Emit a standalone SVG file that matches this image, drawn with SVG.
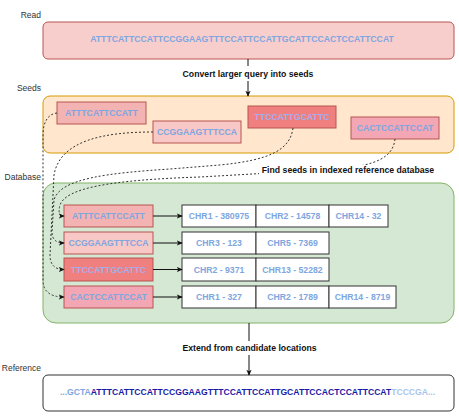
<svg xmlns="http://www.w3.org/2000/svg" width="459" height="418" viewBox="0 0 459 418">
<defs>
<marker id="arr" viewBox="0 0 8 8" refX="7" refY="4" markerWidth="6" markerHeight="6" orient="auto" markerUnits="userSpaceOnUse">
<path d="M0,0.5 L8,4 L0,7.5 L2,4 Z" fill="#111"/>
</marker>
<style>
text{font-family:"Liberation Sans",Arial,sans-serif}
.lbl{font-size:8.5px;fill:#333;text-anchor:end}
.seq{font-weight:bold;font-size:8.7px;fill:#7EA6E0;text-anchor:middle}
.cap{font-weight:bold;font-size:8.7px;fill:#111;text-anchor:middle}
.chr{fill:#fff;stroke:#333;stroke-width:1}
.sd{stroke:#B85450;stroke-width:1}
.dash{fill:none;stroke:#333;stroke-width:1;stroke-dasharray:2 2}
.ln{fill:none;stroke:#111;stroke-width:1}
</style>
</defs>
<rect width="459" height="418" fill="#fff"/>

<g id="labels">
<text class="lbl" x="41" y="18">Read</text>
<text class="lbl" x="41" y="91">Seeds</text>
<text class="lbl" x="41" y="180">Database</text>
<text class="lbl" x="41" y="371">Reference</text>
</g>

<g id="read">
<rect x="43" y="22" width="411" height="37" rx="5" fill="#F8CECC" stroke="#B85450"/>
<text class="seq" x="242" y="42">ATTTCATTCCATTCCGGAAGTTTCCATTCCATTGCATTCCACTCCATTCCAT</text>
</g>

<g id="seeds">
<rect x="43" y="96" width="411" height="57" rx="7" fill="#FFE6CC" stroke="#D79B00"/>
</g>
<g id="seed1"><rect class="sd" x="57" y="102" width="89" height="22" fill="#F4B3B3"/><text class="seq" x="101.5" y="116">ATTTCATTCCATT</text></g>
<g id="seed2"><rect class="sd" x="153" y="121" width="88" height="22" fill="#F7C8C6"/><text class="seq" x="197" y="135">CCGGAAGTTTCCA</text></g>
<g id="seed3"><rect class="sd" x="248" y="106" width="88" height="22" fill="#F08080"/><text class="seq" x="292" y="120" style="fill:#A4AEEA">TTCCATTGCATTC</text></g>
<g id="seed4"><rect class="sd" x="351" y="117" width="88" height="22" fill="#F3A6B4"/><text class="seq" x="395" y="131">CACTCCATTCCAT</text></g>

<g id="database">
<rect x="43" y="183" width="411" height="140" rx="13" fill="#D5E8D4" stroke="#82B366"/>
</g>
<g id="db1"><rect class="sd" x="64" y="205" width="89" height="22" fill="#F4B3B3"/><text class="seq" x="108.5" y="219">ATTTCATTCCATT</text></g>
<g id="db2"><rect class="sd" x="64" y="232" width="89" height="22" fill="#F7C8C6"/><text class="seq" x="108.5" y="246">CCGGAAGTTTCCA</text></g>
<g id="db3"><rect class="sd" x="64" y="258" width="89" height="23" fill="#F08080"/><text class="seq" x="108.5" y="272.5" style="fill:#A4AEEA">TTCCATTGCATTC</text></g>
<g id="db4"><rect class="sd" x="64" y="286" width="89" height="22" fill="#F3A6B4"/><text class="seq" x="108.5" y="300">CACTCCATTCCAT</text></g>

<g id="loc1">
<rect class="chr" x="182" y="205" width="74" height="22"/><text class="seq" x="219" y="219">CHR1 - 380975</text>
<rect class="chr" x="256" y="205" width="73" height="22"/><text class="seq" x="292.5" y="219">CHR2 - 14578</text>
<rect class="chr" x="329" y="205" width="59" height="22"/><text class="seq" x="358.5" y="219">CHR14 - 32</text>
</g>
<g id="loc2">
<rect class="chr" x="182" y="232" width="74" height="22"/><text class="seq" x="219" y="246">CHR3 - 123</text>
<rect class="chr" x="256" y="232" width="73" height="22"/><text class="seq" x="292.5" y="246">CHR5 - 7369</text>
</g>
<g id="loc3">
<rect class="chr" x="182" y="258" width="74" height="23"/><text class="seq" x="219" y="272.5">CHR2 - 9371</text>
<rect class="chr" x="256" y="258" width="73" height="23"/><text class="seq" x="292.5" y="272.5">CHR13 - 52282</text>
</g>
<g id="loc4">
<rect class="chr" x="182" y="286" width="74" height="22"/><text class="seq" x="219" y="300">CHR1 - 327</text>
<rect class="chr" x="256" y="286" width="73" height="22"/><text class="seq" x="292.5" y="300">CHR2 - 1789</text>
<rect class="chr" x="329" y="286" width="67" height="22"/><text class="seq" x="362.5" y="300">CHR14 - 8719</text>
</g>

<g id="reference">
<rect x="43" y="375" width="411" height="36" rx="5" fill="#fff" stroke="#333"/>
<text x="247.5" y="394.5" style="font-weight:bold;font-size:8.6px;text-anchor:middle"><tspan fill="#7EA6E0">...GCTA</tspan><tspan fill="#1A1AA6">ATTTCATTCCATTCCGGAAGTTTCCATTCCATTGCATTCCACTCCATTCCAT</tspan><tspan fill="#A9C4EB">TCCCGA...</tspan></text>
</g>

<g id="connectors">
<path class="ln" d="M248,59 V66"/>
<path class="ln" d="M248,81 V96" marker-end="url(#arr)"/>
<text class="cap" x="248" y="77">Convert larger query into seeds</text>
<path class="ln" d="M249,323 V341"/>
<path class="ln" d="M249,355 V375" marker-end="url(#arr)"/>
<text class="cap" x="249.5" y="351">Extend from candidate locations</text>

<path class="ln" d="M153,216 H182" marker-end="url(#arr)"/>
<path class="ln" d="M153,243 H182" marker-end="url(#arr)"/>
<path class="ln" d="M153,269.5 H182" marker-end="url(#arr)"/>
<path class="ln" d="M153,297 H182" marker-end="url(#arr)"/>

<path class="dash" d="M57,113 C48,114 43,122 43,135 L43,280 Q43,297 64,297" marker-end="url(#arr)"/>
<path class="dash" d="M153,132 C105,132 60,140 54,175 L50,255 Q50,269.5 64,269.5" marker-end="url(#arr)"/>
<path class="dash" d="M293,128 C290,150 270,160 220,165 L170,169 C110,173 60,178 54,200 L52,232 Q52,243 64,243" marker-end="url(#arr)"/>
<path class="dash" d="M395,139 C393,158 375,165 340,169 L200,177 C110,180 66,188 60,205 Q57,216 64,216" marker-end="url(#arr)"/>
<rect x="259" y="165" width="178" height="11" fill="#fff"/>
<text class="cap" x="348" y="173">Find seeds in indexed reference database</text>
</g>
</svg>
